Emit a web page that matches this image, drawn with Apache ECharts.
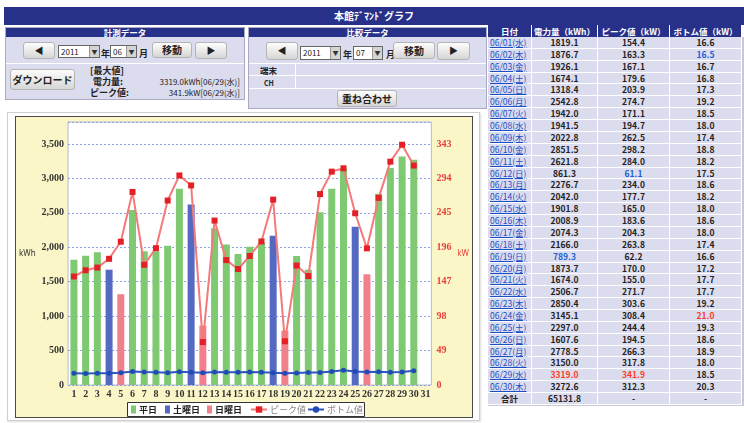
<!DOCTYPE html>
<html><head><meta charset="utf-8">
<script src="https://cdn.jsdelivr.net/npm/echarts@6/dist/echarts.min.js"></script>
<style>
html,body{margin:0;padding:0;background:#fff;}
body{width:744px;height:423px;position:relative;overflow:hidden;font-family:"Noto Sans CJK JP","Noto Sans",sans-serif;color:#222;}
.abs{position:absolute;}
.navy{background:#28318a;color:#fff;font-weight:bold;text-align:center;}
.panel{position:absolute;background:#dcdcef;border:1px solid #a9a9c6;box-sizing:border-box;}
.hline{position:absolute;height:1px;background:#fff;}
.vline{position:absolute;width:1px;background:#fff;}
.btn{position:absolute;box-sizing:border-box;background:linear-gradient(#fdfdfd,#d6d6d6);border:1px solid #b5b5b5;border-radius:3px;font-weight:bold;font-size:10px;color:#222;text-align:center;}
.sel{position:absolute;box-sizing:border-box;background:#fff;border:1px solid #666;font-size:8px;line-height:11px;padding-left:2px;}
.sel .arr{position:absolute;right:0;top:0;width:9px;height:100%;background:#d4d4d4;border-left:1px solid #999;font-size:6px;text-align:center;line-height:11px;color:#333;}
.lbl{position:absolute;font-size:9px;font-weight:bold;line-height:10px;white-space:nowrap;}
.cell{position:absolute;box-sizing:border-box;background:#dcdcef;font-size:8.5px;line-height:11px;text-align:center;white-space:nowrap;font-weight:bold;color:#222;}
.lnk{color:#1b4fc4;text-decoration:underline;font-weight:normal;}
</style></head>
<body>
<!-- title -->
<div class="abs navy" style="left:4px;top:7px;width:740px;height:18px;line-height:18px;font-size:10px;">本館ﾃﾞﾏﾝﾄﾞグラフ</div>

<!-- 計測データ panel -->
<div class="panel" style="left:5px;top:27px;width:240px;height:73px;"></div>
<div class="abs navy" style="left:6px;top:28px;width:238px;height:9px;line-height:9px;font-size:8.5px;">計測データ</div>
<div class="hline" style="left:6px;top:63px;width:238px;"></div>
<div class="btn" style="left:23px;top:42px;width:32px;height:17px;line-height:15px;font-size:9px;">◀</div>
<div class="sel" style="left:58px;top:45px;width:42px;height:13px;">2011<div class="arr">▼</div></div>
<div class="lbl" style="left:101px;top:49px;">年</div>
<div class="sel" style="left:110px;top:45px;width:27px;height:13px;">06<div class="arr">▼</div></div>
<div class="lbl" style="left:139px;top:49px;">月</div>
<div class="btn" style="left:152px;top:42px;width:40px;height:16px;line-height:14px;">移動</div>
<div class="btn" style="left:195px;top:42px;width:32px;height:17px;line-height:15px;font-size:9px;">▶</div>
<div class="btn" style="left:10px;top:69px;width:65px;height:21px;line-height:19px;">ダウンロード</div>
<div class="lbl" style="left:90px;top:66px;">[最大値]</div>
<div class="lbl" style="left:93px;top:77px;">電力量:</div>
<div class="lbl" style="left:90px;top:88px;">ピーク値:</div>
<div class="lbl" id="maxE" style="right:504px;top:77px;font-weight:normal;font-size:8px;"></div>
<div class="lbl" id="maxP" style="right:504px;top:88px;font-weight:normal;font-size:8px;"></div>

<!-- 比較データ panel -->
<div class="panel" style="left:248px;top:27px;width:239px;height:82px;"></div>
<div class="abs navy" style="left:249px;top:28px;width:237px;height:9px;line-height:9px;font-size:8.5px;">比較データ</div>
<div class="btn" style="left:266px;top:42px;width:32px;height:18px;line-height:16px;font-size:9px;">◀</div>
<div class="sel" style="left:300px;top:46px;width:41px;height:14px;">2011<div class="arr">▼</div></div>
<div class="lbl" style="left:343px;top:50px;">年</div>
<div class="sel" style="left:353px;top:46px;width:30px;height:14px;">07<div class="arr">▼</div></div>
<div class="lbl" style="left:386px;top:50px;">月</div>
<div class="btn" style="left:393px;top:42px;width:42px;height:17px;line-height:15px;">移動</div>
<div class="btn" style="left:437px;top:42px;width:33px;height:18px;line-height:16px;font-size:9px;">▶</div>
<div class="hline" style="left:249px;top:63px;width:237px;"></div>
<div class="hline" style="left:249px;top:75px;width:237px;"></div>
<div class="hline" style="left:249px;top:88px;width:237px;"></div>
<div class="vline" style="left:295px;top:63px;height:25px;"></div>
<div class="lbl" style="left:260px;top:65px;font-size:8.5px;">端末</div>
<div class="lbl" style="left:264px;top:78px;font-size:7px;">CH</div>
<div class="btn" style="left:337px;top:90px;width:60px;height:17px;line-height:15px;">重ね合わせ</div>

<!-- table -->
<div id="tbl" class="abs" style="left:488px;top:25px;width:256px;height:381px;"></div>

<!-- chart frame -->
<div class="abs" style="left:7px;top:112px;width:473px;height:309px;box-sizing:border-box;border:1px solid #cfcfcf;background:#fff;box-shadow:1px 1px 2px #ddd;"></div>
<div class="abs" style="left:15px;top:116px;width:458px;height:302px;box-sizing:border-box;border:1px solid #4a4a4a;"></div>
<div id="chart" class="abs" style="left:16px;top:117px;width:456px;height:300px;background:#fbf6c8;"></div>

<script>
// ---- data ----
const categories = ['1','2','3','4','5','6','7','8','9','10','11','12','13','14','15','16','17','18','19','20','21','22','23','24','25','26','27','28','29','30','31'];
const weekdays = ['水','木','金','土','日','月','火','水','木','金','土','日','月','火','水','木','金','土','日','月','火','水','木','金','土','日','月','火','水','木'];
const energy = [1819.1,1876.7,1926.1,1674.1,1318.4,2542.8,1942.0,1941.5,2022.8,2851.5,2621.8,861.3,2276.7,2042.0,1901.8,2008.9,2074.3,2166.0,789.3,1873.7,1674.0,2506.7,2850.4,3145.1,2297.0,1607.6,2778.5,3150.0,3319.0,3272.6];
const peak = [154.4,163.3,167.1,179.6,203.9,274.7,171.1,194.7,262.5,298.2,284.0,61.1,234.0,177.7,165.0,183.6,204.3,263.8,62.2,170.0,155.0,271.7,303.6,308.4,244.4,194.5,266.3,317.8,341.9,312.3];
const bottom = [16.6,16.5,16.7,16.8,17.3,19.2,18.5,18.0,17.4,18.8,18.2,17.5,18.6,18.2,18.0,18.6,18.0,17.4,16.6,17.2,17.7,17.7,19.2,21.0,19.3,18.6,18.9,18.0,18.5,20.3];
const totalEnergy = '65131.8';
const leftTicks = [0,500,1000,1500,2000,2500,3000,3500];
const rightTicks = [0,49,98,147,196,245,294,343];
const seriesNames = ['平日','土曜日','日曜日','ピーク値','ボトム値'];
const tableHeaders = ['日付','電力量（kWh）','ピーク値（kW）','ボトム値（kW）'];

const month = '06';
const pad = n => (n < 10 ? '0' : '') + n;
const dateLabel = i => month + '/' + pad(i + 1) + '(' + weekdays[i] + ')';

// ---- max info ----
const iMaxE = energy.indexOf(Math.max(...energy));
const iMaxP = peak.indexOf(Math.max(...peak));
document.getElementById('maxE').textContent = energy[iMaxE].toFixed(1) + 'kWh[' + dateLabel(iMaxE) + ']';
document.getElementById('maxP').textContent = peak[iMaxP].toFixed(1) + 'kW[' + dateLabel(iMaxP) + ']';

// ---- table ----
(function () {
  const tbl = document.getElementById('tbl');
  const colX = [0, 44, 110, 182, 254];
  const headH = 12, rowH = 11.87;
  let html = '';
  tableHeaders.forEach((h, c) => {
    html += '<div class="cell navy" style="left:' + colX[c] + 'px;top:0;width:' + (colX[c+1]-colX[c]) + 'px;height:' + headH + 'px;line-height:12px;font-size:8.5px;background:#28318a;color:#fff;border-right:1px solid #fff;">' + h + '</div>';
  });
  const minE = Math.min(...energy), maxE = Math.max(...energy);
  const minP = Math.min(...peak), maxP = Math.max(...peak);
  const minB = Math.min(...bottom), maxB = Math.max(...bottom);
  const col = (v, mn, mx) => v === mx ? 'color:#ff3a1e;' : (v === mn ? 'color:#1a5fd6;' : '');
  const rows = energy.map((e, i) => [
    '<span class="lnk">' + dateLabel(i) + '</span>',
    { t: e.toFixed(1), s: col(e, minE, maxE) },
    { t: peak[i].toFixed(1), s: col(peak[i], minP, maxP) },
    { t: bottom[i].toFixed(1), s: col(bottom[i], minB, maxB) }
  ]);
  rows.push(['合計', { t: totalEnergy, s: '' }, { t: '-', s: '' }, { t: '-', s: '' }]);
  rows.forEach((r, i) => {
    const top = headH + i * rowH;
    r.forEach((c, k) => {
      const txt = typeof c === 'string' ? c : c.t;
      const st = typeof c === 'string' ? '' : c.s;
      const align = k === 0 && i < energy.length ? 'text-align:left;padding-left:2px;' : '';
      html += '<div class="cell" style="left:' + colX[k] + 'px;top:' + top.toFixed(2) + 'px;width:' + (colX[k+1]-colX[k]) + 'px;height:' + rowH + 'px;line-height:' + rowH + 'px;border-right:1px solid #fff;border-bottom:1px solid #fff;' + align + st + '">' + txt + '</div>';
    });
  });
  html += '<div class="abs" style="left:254px;top:12px;width:2px;height:368px;background:#c9c9d6;"></div>';
  html += '<div class="abs" style="left:0;top:380px;width:256px;height:1px;background:#c9c9d6;"></div>';
  tbl.innerHTML = html;
})();

// ---- chart ----
const leftMax = 3819;
const rightMax = leftMax * rightTicks[1] / leftTicks[1];
const isSat = i => weekdays[i] === '土';
const isSun = i => weekdays[i] === '日';
const weekdayData = energy.map((v, i) => (!isSat(i) && !isSun(i)) ? v : '-');
const satData = energy.map((v, i) => isSat(i) ? v : '-');
const sunData = energy.map((v, i) => isSun(i) ? v : '-');
const fmt = v => String(v).replace(/\B(?=(\d{3})+(?!\d))/g, ',');

// one legend per item, placed side by side in a framed box
const legendLeft = [115, 149, 191, 234, 291];
const legends = seriesNames.map((n, k) => ({
  left: legendLeft[k], top: 288, padding: 0,
  itemWidth: k < 3 ? 5 : 16, itemHeight: 8, itemGap: 0,
  data: [k < 3 ? { name: n, icon: 'rect' } : n],
  textStyle: k < 3
    ? { fontFamily: 'Noto Sans CJK JP', fontSize: 9, fontWeight: 'bold', color: '#222', padding: [0, 0, 0, -2] }
    : { fontFamily: 'Noto Sans CJK JP', fontSize: 9, color: '#888', padding: [0, 0, 0, -2] }
}));

const axisFont = { fontFamily: 'Liberation Serif', fontWeight: 'bold', fontSize: 10 };
const chart = echarts.init(document.getElementById('chart'));
chart.setOption({
  animation: false,
  grid: { left: 48, top: 5, right: 33, bottom: 32, show: true, backgroundColor: '#ffffff', borderColor: '#b3bbd6', borderWidth: 1 },
  graphic: [{ type: 'rect', left: 111, top: 285, shape: { width: 237, height: 14 }, style: { fill: '#fff', stroke: '#333', lineWidth: 1 }, z: 0 }],
  legend: legends,
  xAxis: {
    type: 'category', data: categories,
    axisLine: { show: false }, axisTick: { show: false },
    axisLabel: Object.assign({ color: '#333', margin: 4, interval: 0 }, axisFont)
  },
  yAxis: [{
    type: 'value', min: leftTicks[0], max: leftMax, interval: leftTicks[1],
    name: 'kWh', nameLocation: 'middle', nameRotate: 0, nameGap: 26,
    nameTextStyle: { fontSize: 8, color: '#333', fontFamily: 'Noto Sans' },
    axisLine: { show: false }, axisTick: { show: false },
    axisLabel: Object.assign({ color: '#333', margin: 4, showMaxLabel: false, formatter: fmt }, axisFont),
    splitLine: { lineStyle: { color: '#8ea0e6', type: [2, 2], width: 1 } }
  }, {
    type: 'value', min: rightTicks[0], max: rightMax, interval: rightTicks[1],
    name: 'kW', nameLocation: 'middle', nameRotate: 0, nameGap: 24,
    nameTextStyle: { fontSize: 8, color: '#e8403a', fontFamily: 'Noto Sans' },
    axisLine: { show: false }, axisTick: { show: false },
    axisLabel: Object.assign({ color: '#e8403a', margin: 5, showMaxLabel: false }, axisFont),
    splitLine: { show: false }
  }],
  series: [
    { name: seriesNames[0], type: 'bar', data: weekdayData, barWidth: 7, barGap: '-100%', itemStyle: { color: '#7fc972' } },
    { name: seriesNames[1], type: 'bar', data: satData, barWidth: 7, barGap: '-100%', itemStyle: { color: '#5669c2' } },
    { name: seriesNames[2], type: 'bar', data: sunData, barWidth: 7, barGap: '-100%', itemStyle: { color: '#f1808c' } },
    { name: seriesNames[3], type: 'line', yAxisIndex: 1, data: peak, symbol: 'rect', symbolSize: 6,
      lineStyle: { color: '#f47a7a', width: 2 }, itemStyle: { color: '#e41f26' }, z: 5 },
    { name: seriesNames[4], type: 'line', yAxisIndex: 1, data: bottom, symbol: 'circle', symbolSize: 5,
      lineStyle: { color: '#2b56c0', width: 2 }, itemStyle: { color: '#1f4ab8' }, z: 6 }
  ]
});
</script>
</body></html>
